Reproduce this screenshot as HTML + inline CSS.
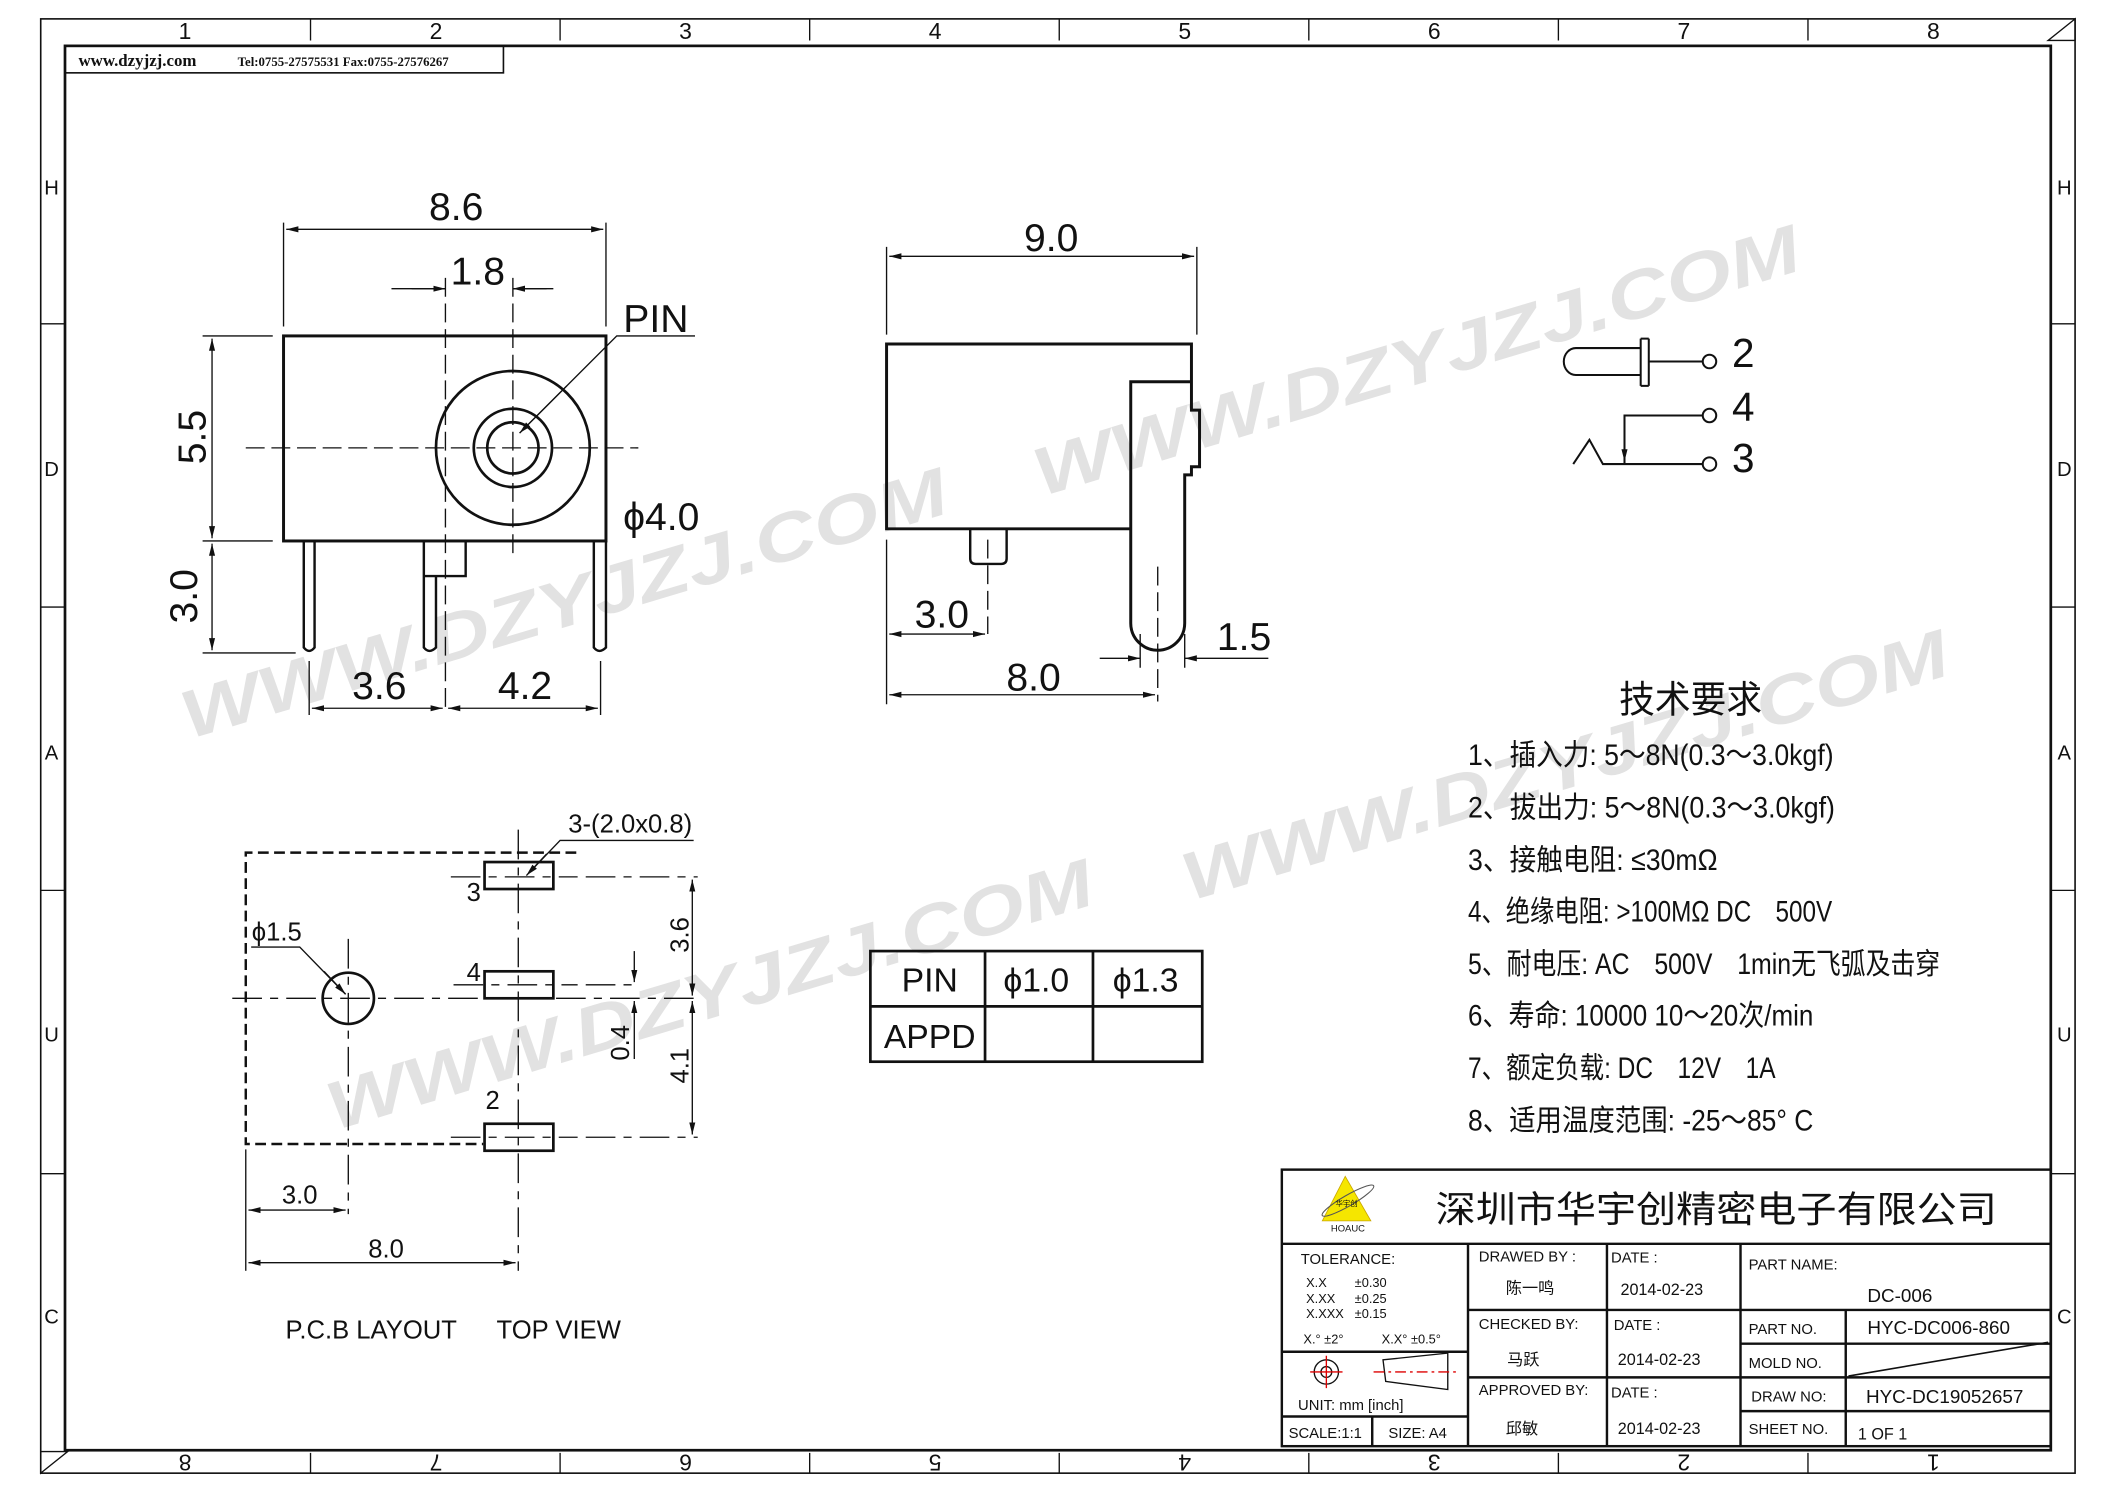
<!DOCTYPE html>
<html><head><meta charset="utf-8"><style>
html,body{margin:0;padding:0;background:#fff;}
svg{display:block;}
text{font-family:"Liberation Sans","Noto Sans CJK SC",sans-serif;fill:#111;}
.cn{font-family:"Noto Sans CJK SC","WenQuanYi Zen Hei",sans-serif;}
.sf{font-family:"Liberation Serif","Noto Serif CJK SC",serif;}
.wm{font-family:"Liberation Sans",sans-serif;font-weight:bold;fill:#e2e2e2;font-size:50px;font-style:italic;}
</style></head><body>
<svg width="2105" height="1488" viewBox="0 0 1560 1103" xmlns="http://www.w3.org/2000/svg">
<defs>
<marker id="a" viewBox="0 0 10 10" refX="10" refY="5" markerWidth="9" markerHeight="9" orient="auto-start-reverse" markerUnits="userSpaceOnUse"><path d="M0,2.5 L10,5 L0,7.5 z" fill="#111"/></marker>
</defs>
<rect width="1560" height="1103" fill="#fff"/>
<!-- watermarks -->
<text class="wm" transform="translate(140,548) rotate(-16.6)" textLength="590" lengthAdjust="spacingAndGlyphs">WWW.DZYJZJ.COM</text>
<text class="wm" transform="translate(772,368) rotate(-16.6)" textLength="590" lengthAdjust="spacingAndGlyphs">WWW.DZYJZJ.COM</text>
<text class="wm" transform="translate(248,838) rotate(-16.6)" textLength="590" lengthAdjust="spacingAndGlyphs">WWW.DZYJZJ.COM</text>
<text class="wm" transform="translate(882,668) rotate(-16.6)" textLength="590" lengthAdjust="spacingAndGlyphs">WWW.DZYJZJ.COM</text>

<!-- frame -->
<g fill="none" stroke="#111">
<rect x="30" y="14" width="1508" height="1078" stroke-width="1.2"/>
<rect x="48" y="34" width="1472" height="1041" stroke-width="2"/>
<path d="M230,14V30 M415,14V30 M600,14V30 M785,14V30 M970,14V30 M1155,14V30 M1340,14V30" stroke-width="1"/>
<path d="M230,1077V1092 M415,1077V1092 M600,1077V1092 M785,1077V1092 M970,1077V1092 M1155,1077V1092 M1340,1077V1092" stroke-width="1"/>
<path d="M30,240H48 M30,450H48 M30,660H48 M30,870H48 M1520,240H1538 M1520,450H1538 M1520,660H1538 M1520,870H1538" stroke-width="1"/>
<path d="M1538,14 L1518,30 L1538,30 Z M30,1092 L50,1076 L30,1076 Z" stroke-width="1"/>
<rect x="48" y="34" width="325" height="20" stroke-width="1.2"/>
</g>
<g font-size="17" text-anchor="middle">
<text x="137" y="29">1</text><text x="323" y="29">2</text><text x="508" y="29">3</text><text x="693" y="29">4</text><text x="878" y="29">5</text><text x="1063" y="29">6</text><text x="1248" y="29">7</text><text x="1433" y="29">8</text>
<g transform="rotate(180 780 1084)"><text x="127" y="1090">1</text><text x="312" y="1090">2</text><text x="497" y="1090">3</text><text x="682" y="1090">4</text><text x="867" y="1090">5</text><text x="1052" y="1090">6</text><text x="1237" y="1090">7</text><text x="1423" y="1090">8</text></g>
</g>
<g font-size="15" text-anchor="middle">
<text x="38" y="144">H</text><text x="38" y="353">D</text><text x="38" y="563">A</text><text x="38" y="772">U</text><text x="38" y="981">C</text>
<text x="1530" y="144">H</text><text x="1530" y="353">D</text><text x="1530" y="563">A</text><text x="1530" y="772">U</text><text x="1530" y="981">C</text>
</g>
<text x="58" y="49" class="sf" font-size="12.5" font-weight="bold">www.dzyjzj.com</text>
<text x="176" y="49" class="sf" font-size="9.5" font-weight="bold">Tel:0755-27575531  Fax:0755-27576267</text>

<!-- FRONT VIEW -->
<g fill="none" stroke="#111">
<rect x="210" y="249" width="239" height="152" stroke-width="2.2"/>
<circle cx="380" cy="332" r="57" stroke-width="2"/>
<circle cx="380" cy="332" r="29" stroke-width="2"/>
<circle cx="380" cy="332" r="19" stroke-width="2"/>
<path d="M225,401 V480 Q229,485 233,480 V401" stroke-width="1.8"/>
<path d="M440,401 V480 Q444,485 449,480 V401" stroke-width="1.8"/>
<path d="M314,401 V427 H345 V401 M314,427 H345 M314,427 V480 Q318,485 323,480 V427" stroke-width="1.8"/>
<g stroke-width="1" stroke-dasharray="14,5">
<path d="M182,332 H473"/><path d="M380,206 V411"/><path d="M330,206 V525"/>
</g>
<g stroke-width="1">
<path d="M210,242 V165 M449,242 V165"/>
<path d="M212,170 H447" marker-start="url(#a)" marker-end="url(#a)"/>
<path d="M290,214 H330 M380,214 H410"/>
<path d="M305,214 H330" marker-end="url(#a)"/><path d="M405,214 H380" marker-end="url(#a)"/>
<path d="M515,249 H457 L385,321" /><path d="M420,286 L385,321" marker-end="url(#a)"/>
<path d="M150,249 H202 M150,401 H202 M150,484 H219"/>
<path d="M157,251 V399" marker-start="url(#a)" marker-end="url(#a)"/>
<path d="M157,403 V482" marker-start="url(#a)" marker-end="url(#a)"/>
<path d="M229,490 V530 M445,490 V530"/>
<path d="M231,525 H328" marker-start="url(#a)" marker-end="url(#a)"/>
<path d="M332,525 H443" marker-start="url(#a)" marker-end="url(#a)"/>
</g>
</g>
<g font-size="29" text-anchor="middle">
<text x="338" y="163">8.6</text>
<text x="354" y="211">1.8</text>
<text x="486" y="246">PIN</text>
<text x="490" y="393">ϕ4.0</text>
<text x="281" y="518">3.6</text>
<text x="389" y="518">4.2</text>
<text transform="translate(152,324) rotate(-90)">5.5</text>
<text transform="translate(146,442) rotate(-90)">3.0</text>
</g>

<!-- SIDE VIEW -->
<g fill="none" stroke="#111">
<path d="M837,392 H657 V255 H883 V304 H889 V346 H883 V352 H878 V462 A20,20 0 0 1 838,462 V283 H883" stroke-width="2.2"/>
<path d="M719,392 V414 Q719,418 723,418 H742 Q746,418 746,414 V392" stroke-width="1.8"/>
<g stroke-width="1" stroke-dasharray="14,5"><path d="M732,400 V470"/><path d="M858,420 V520"/></g>
<g stroke-width="1">
<path d="M657,248 V183 M887,248 V183"/>
<path d="M659,190 H885" marker-start="url(#a)" marker-end="url(#a)"/>
<path d="M657,400 V522"/>
<path d="M659,470 H730" marker-start="url(#a)" marker-end="url(#a)"/>
<path d="M659,515 H856" marker-start="url(#a)" marker-end="url(#a)"/>
<path d="M845,470 V495 M878,470 V495"/>
<path d="M815,488 H845" marker-end="url(#a)"/><path d="M940,488 H878" marker-end="url(#a)"/>
</g>
</g>
<g font-size="29" text-anchor="middle">
<text x="779" y="186">9.0</text>
<text x="698" y="465">3.0</text>
<text x="766" y="512">8.0</text>
<text x="922" y="482">1.5</text>
</g>

<!-- SCHEMATIC -->
<g fill="none" stroke="#111" stroke-width="1.5">
<path d="M1216,258 H1168 A9,10 0 0 0 1168,278 H1216"/>
<path d="M1216,251 V286 M1222,251 V286 M1216,251 H1222 M1216,286 H1222"/>
<path d="M1222,268 H1262"/>
<circle cx="1267" cy="268" r="5"/>
<circle cx="1267" cy="308" r="5"/>
<circle cx="1267" cy="344" r="5"/>
<path d="M1262,308 H1204 V344"/>
<path d="M1204,320 V342" marker-end="url(#a)"/>
<path d="M1166,344 L1178,326 L1188,344 H1262"/>
</g>
<g font-size="30" text-anchor="middle">
<text x="1292" y="272">2</text><text x="1292" y="312">4</text><text x="1292" y="350">3</text>
</g>

<!-- TECH REQUIREMENTS -->
<g class="cn" font-size="28"><text x="1200" y="528" textLength="106" lengthAdjust="spacingAndGlyphs">技术要求</text></g>
<g class="cn" font-size="22">
<text x="1088" y="567" textLength="271" lengthAdjust="spacingAndGlyphs">1、插入力: 5～8N(0.3～3.0kgf)</text>
<text x="1088" y="606" textLength="272" lengthAdjust="spacingAndGlyphs">2、拔出力: 5～8N(0.3～3.0kgf)</text>
<text x="1088" y="645" textLength="185" lengthAdjust="spacingAndGlyphs">3、接触电阻: ≤30mΩ</text>
<text x="1088" y="683" textLength="270" lengthAdjust="spacingAndGlyphs">4、绝缘电阻: &gt;100MΩ DC　500V</text>
<text x="1088" y="722" textLength="350" lengthAdjust="spacingAndGlyphs">5、耐电压: AC　500V　1min无飞弧及击穿</text>
<text x="1088" y="760" textLength="256" lengthAdjust="spacingAndGlyphs">6、寿命: 10000 10～20次/min</text>
<text x="1088" y="799" textLength="228" lengthAdjust="spacingAndGlyphs">7、额定负载: DC　12V　1A</text>
<text x="1088" y="838" textLength="256" lengthAdjust="spacingAndGlyphs">8、适用温度范围: -25～85° C</text>
</g>

<!-- PCB LAYOUT -->
<g fill="none" stroke="#111">
<path d="M427,632 H182 V848 H358" stroke-width="1.8" stroke-dasharray="8,4"/>
<rect x="359" y="639" width="51" height="20" stroke-width="2"/>
<rect x="359" y="720" width="51" height="20" stroke-width="2"/>
<rect x="359" y="833" width="51" height="20" stroke-width="2"/>
<circle cx="258" cy="740" r="19" stroke-width="2"/>
<g stroke-width="1" stroke-dasharray="22,6,6,6">
<path d="M384,615 V942"/>
<path d="M172,740 H517"/>
<path d="M258,696 V900"/>
<path d="M334,650 H428 M434,650 H517"/>
<path d="M336,730 H428 M434,730 H472"/>
<path d="M334,843 H428 M434,843 H517"/>
</g>
<g stroke-width="1">
<path d="M513,652 V738" marker-start="url(#a)" marker-end="url(#a)"/>
<path d="M513,742 V841" marker-start="url(#a)" marker-end="url(#a)"/>
<path d="M470,705 V728" marker-end="url(#a)"/>
<path d="M470,785 V742" marker-end="url(#a)"/>
<path d="M514,623 H415 L392,647" /><path d="M405,633 L390,649" marker-end="url(#a)"/>
<path d="M186,702 H222 L256,737"/><path d="M240,720 L256,737" marker-end="url(#a)"/>
<path d="M182,852 V942"/>
<path d="M184,897 H256" marker-start="url(#a)" marker-end="url(#a)"/>
<path d="M184,936 H382" marker-start="url(#a)" marker-end="url(#a)"/>
</g>
</g>
<g font-size="19" text-anchor="middle">
<text x="467" y="617">3-(2.0x0.8)</text>
<text x="205" y="697">ϕ1.5</text>
<text x="351" y="668">3</text><text x="351" y="727">4</text><text x="365" y="822">2</text>
<text x="222" y="892">3.0</text>
<text x="286" y="932">8.0</text>
<text transform="translate(510,693) rotate(-90)">3.6</text>
<text transform="translate(466,773) rotate(-90)">0.4</text>
<text transform="translate(510,790) rotate(-90)">4.1</text>
<text x="275" y="992" text-anchor="middle">P.C.B LAYOUT</text>
<text x="414" y="992" text-anchor="middle">TOP VIEW</text>
</g>

<!-- PIN TABLE -->
<g fill="none" stroke="#111" stroke-width="2">
<rect x="645" y="705" width="246" height="82"/>
<path d="M730,705 V787 M810,705 V787 M645,746 H891"/>
</g>
<g font-size="25" text-anchor="middle">
<text x="689" y="735">PIN</text><text x="768" y="735">ϕ1.0</text><text x="849" y="735">ϕ1.3</text>
<text x="689" y="777">APPD</text>
</g>

<!-- TITLE BLOCK -->
<g fill="none" stroke="#111" stroke-width="1.8">
<rect x="950" y="867" width="570" height="205"/>
<path d="M950,922 H1520"/>
<path d="M1088,922 V1072 M1191,922 V1072 M1290,922 V1072"/>
<path d="M1088,971 H1520 M1088,1021 H1520"/>
<path d="M1290,996 H1520 M1290,1046 H1520 M1368,971 V1072"/>
<path d="M950,1002 H1088 M950,1050 H1088 M1017,1050 V1072"/>
<path d="M1370,1020 L1518,995" stroke-width="1.2"/>
</g>
<polygon points="997,872 980,905 1016,905" fill="#f5e600" stroke="#caa700" stroke-width="0.6"/>
<ellipse cx="999" cy="890" rx="22" ry="4" transform="rotate(-30 999 890)" fill="none" stroke="#555" stroke-width="0.8"/>
<text x="998" y="894" font-size="5.5" class="cn" text-anchor="middle" fill="#c00">华宇创</text>
<text x="999" y="913" font-size="7" text-anchor="middle">HOAUC</text>
<text x="1272" y="906" class="cn" font-size="27" text-anchor="middle" textLength="416" lengthAdjust="spacingAndGlyphs">深圳市华宇创精密电子有限公司</text>
<g font-size="11">
<text x="964" y="937">TOLERANCE:</text>
<text x="968" y="954" font-size="9.5">X.X</text><text x="1004" y="954" font-size="9.5">±0.30</text>
<text x="968" y="966" font-size="9.5">X.XX</text><text x="1004" y="966" font-size="9.5">±0.25</text>
<text x="968" y="977" font-size="9.5">X.XXX</text><text x="1004" y="977" font-size="9.5">±0.15</text>
<text x="966" y="996" font-size="9.5">X.° ±2°</text><text x="1024" y="996" font-size="9.5">X.X° ±0.5°</text>
<text x="962" y="1045">UNIT:  mm  [inch]</text>
<text x="955" y="1066">SCALE:1:1</text><text x="1029" y="1066">SIZE:  A4</text>
<text x="1096" y="935">DRAWED  BY :</text>
<text x="1096" y="985">CHECKED  BY:</text>
<text x="1096" y="1034">APPROVED  BY:</text>
<text x="1194" y="936">DATE  :</text><text x="1196" y="986">DATE  :</text><text x="1194" y="1036">DATE  :</text>
<text x="1296" y="941">PART  NAME:</text>
<text x="1296" y="989">PART  NO.</text>
<text x="1296" y="1014">MOLD  NO.</text>
<text x="1298" y="1039">DRAW  NO:</text>
<text x="1296" y="1063">SHEET  NO.</text>
</g>
<g class="sf" font-size="12">
<text x="1116" y="959" class="cn" font-size="12">陈一鸣</text>
<text x="1117" y="1012" class="cn" font-size="12">马跃</text>
<text x="1116" y="1063" class="cn" font-size="12">邱敏</text>
<text x="1201" y="960">2014-02-23</text>
<text x="1199" y="1012">2014-02-23</text>
<text x="1199" y="1063">2014-02-23</text>
<text x="1384" y="965" font-size="14">DC-006</text>
<text x="1384" y="989" font-size="14">HYC-DC006-860</text>
<text x="1383" y="1040" font-size="14">HYC-DC19052657</text>
<text x="1377" y="1067">1  OF  1</text>
</g>
<g fill="none" stroke-width="1">
<circle cx="983" cy="1017" r="9" stroke="#111"/><circle cx="983" cy="1017" r="4" stroke="#111"/>
<path d="M971,1017 H995 M983,1005 V1029" stroke="#d00"/>
<path d="M1025,1008 L1073,1003 V1030 L1027,1024 Z" stroke="#111"/>
<path d="M1018,1017 H1080" stroke="#d00" stroke-dasharray="8,3,2,3"/>
</g>
</svg>
</body></html>
